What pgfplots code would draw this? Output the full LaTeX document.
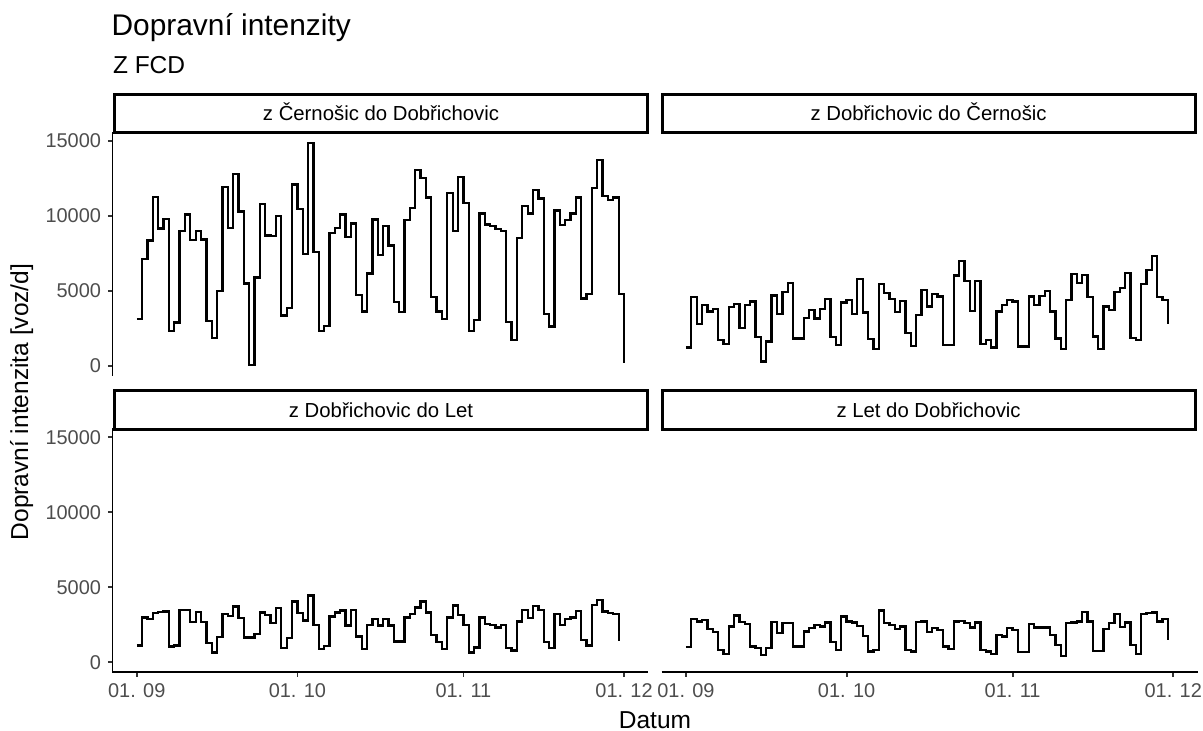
\documentclass[border=0pt]{standalone}
\usepackage{fontspec}
\setmainfont{Liberation Sans}
\usepackage{pgfplots}
\pgfplotsset{compat=1.18}
\definecolor{tickgray}{RGB}{77,77,77}
\definecolor{tickmark}{RGB}{51,51,51}
\pgfplotsset{
  panel/.style={
    scale only axis, width=268bp, height=122bp, anchor=south west,
    xmin=-4.55, xmax=95.55, ymin=-670, ymax=15610,
    ytick={0,5000,10000,15000},
    xtick={0,30,61,91},
    xticklabels={01. 09,01. 10,01. 11,01. 12},
    tick align=outside, major tick length=2.2bp,
    tick style={tickmark, line width=0.9bp},
    axis line style={black, line width=0.9bp},
    ticklabel style={font=\fontsize{10}{12}\selectfont, text=tickgray},
    /pgf/number format/assume math mode=true,
    /pgf/number format/1000 sep={},
    scaled y ticks=false,
    clip=false,
  },
  dat/.style={black, line width=1.15bp, const plot, mark=none, line join=miter},
}
\begin{document}
\begin{tikzpicture}
\path[use as bounding box] (0,0) rectangle (601.5bp,365.5bp);
% titles
\node[anchor=base west, inner sep=0pt, font=\fontsize{15}{18}\selectfont] at (55.6bp,347.5bp) {Dopravní intenzity};
\node[anchor=base west, inner sep=0pt, font=\fontsize{12.3}{14}\selectfont] at (56.3bp,328.5bp) {Z FCD};
% panel 1
\begin{axis}[panel, at={(56.2bp,177.5bp)}, axis x line=none, axis y line*=left]
\addplot[dat] coordinates {
(0,3150)(1,7140)(2,8370)(3,11270)(4,9170)(5,9820)(6,2320)(7,2900)(8,9000)(9,10100)
(10,8390)(11,9000)(12,8440)(13,3000)(14,1850)(15,5000)(16,11960)(17,9200)(18,12800)(19,10300)
(20,5500)(21,70)(22,5900)(23,10800)(24,8700)(25,8660)(26,10000)(27,3370)(28,3860)(29,12100)
(30,10450)(31,7460)(32,14870)(33,7600)(34,2340)(35,2660)(36,8880)(37,9200)(38,10100)(39,8600)
(40,9500)(41,4750)(42,3640)(43,6160)(44,9780)(45,7410)(46,9330)(47,8040)(48,4260)(49,3600)
(50,9730)(51,10540)(52,13060)(53,12540)(54,11230)(55,4600)(56,3640)(57,3130)(58,11520)(59,9000)
(60,12630)(61,10850)(62,2340)(63,3080)(64,10180)(65,9440)(66,9330)(67,9150)(68,9000)(69,2920)
(70,1740)(71,8550)(72,10650)(73,10180)(74,11720)(75,11180)(76,3480)(77,2630)(78,10380)(79,9400)
(80,9730)(81,10180)(82,11230)(83,4500)(84,4800)(85,11850)(86,13730)(87,11340)(88,11050)(89,11230)
(90,4780)(91,220)};
\end{axis}
% panel 2
\begin{axis}[panel, at={(330.8bp,177.5bp)}, axis x line=none, axis y line=none]
\addplot[dat] coordinates {
(0,1230)(1,4580)(2,2810)(3,4060)(4,3640)(5,3820)(6,1740)(7,1450)(8,3930)(9,4150)
(10,2520)(11,4080)(12,4310)(13,1920)(14,290)(15,1630)(16,4710)(17,3480)(18,4930)(19,5540)
(20,1830)(21,1830)(22,3190)(23,3730)(24,3170)(25,3820)(26,4460)(27,1920)(28,1380)(29,4240)
(30,4420)(31,3460)(32,5800)(33,3570)(34,1790)(35,1120)(36,5470)(37,4870)(38,4460)(39,3620)
(40,4350)(41,2190)(42,1340)(43,3420)(44,5070)(45,3970)(46,4820)(47,4640)(48,1410)(49,1410)
(50,6030)(51,6990)(52,5690)(53,3680)(54,5690)(55,1450)(56,1740)(57,1230)(58,3640)(59,4080)
(60,4420)(61,4310)(62,1290)(63,1290)(64,4640)(65,4080)(66,4690)(67,4980)(68,3640)(69,1830)
(70,1140)(71,4420)(72,6140)(73,5540)(74,6090)(75,4600)(76,1960)(77,1140)(78,3970)(79,3710)
(80,4930)(81,5200)(82,6210)(83,1850)(84,1740)(85,5470)(86,6380)(87,7320)(88,4580)(89,4380)
(90,2810)};
\end{axis}
% panel 3
\begin{axis}[panel, at={(56.2bp,29.4bp)}, axis x line*=bottom, axis y line*=left]
\addplot[dat] coordinates {
(0,1110)(1,2980)(2,2890)(3,3270)(4,3360)(5,3380)(6,1040)(7,1110)(8,3490)(9,3490)
(10,2670)(11,3330)(12,2670)(13,1270)(14,640)(15,1670)(16,3200)(17,3090)(18,3710)(19,2930)
(20,1640)(21,1640)(22,1870)(23,3310)(24,3160)(25,2600)(26,3600)(27,930)(28,1600)(29,4040)
(30,3270)(31,2780)(32,4440)(33,2490)(34,890)(35,1090)(36,3040)(37,3310)(38,3440)(39,2440)
(40,3490)(41,1710)(42,890)(43,2490)(44,2890)(45,2440)(46,2890)(47,2440)(48,1380)(49,1380)
(50,2980)(51,3200)(52,3640)(53,4040)(54,3310)(55,1820)(56,1330)(57,890)(58,2980)(59,3780)
(60,3160)(61,2490)(62,640)(63,980)(64,2980)(65,2560)(66,2490)(67,2310)(68,2490)(69,930)
(70,780)(71,2710)(72,3490)(73,2930)(74,3760)(75,3490)(76,1330)(77,930)(78,3200)(79,2490)
(80,2870)(81,2980)(82,3420)(83,1490)(84,1110)(85,3820)(86,4160)(87,3380)(88,3270)(89,3200)
(90,1420)};
\end{axis}
% panel 4
\begin{axis}[panel, at={(330.8bp,29.4bp)}, axis x line*=bottom, axis y line=none]
\addplot[dat] coordinates {
(0,1000)(1,2870)(2,2710)(3,2820)(4,2220)(5,2000)(6,820)(7,530)(8,2380)(9,3110)
(10,2670)(11,2530)(12,1040)(13,930)(14,490)(15,930)(16,2670)(17,1930)(18,2600)(19,2600)
(20,1040)(21,1040)(22,2040)(23,2270)(24,2490)(25,2380)(26,2640)(27,1330)(28,820)(29,3040)
(30,2710)(31,2640)(32,2420)(33,1760)(34,710)(35,820)(36,3440)(37,2600)(38,2490)(39,2200)
(40,2380)(41,820)(42,710)(43,2670)(44,2710)(45,2000)(46,2270)(47,2160)(48,1040)(49,890)
(50,2710)(51,2760)(52,2600)(53,2310)(54,2640)(55,820)(56,710)(57,560)(58,1820)(59,1710)
(60,2270)(61,2160)(62,670)(63,670)(64,2560)(65,2310)(66,2310)(67,2310)(68,1820)(69,1160)
(70,420)(71,2600)(72,2640)(73,2710)(74,3330)(75,2710)(76,760)(77,760)(78,2200)(79,2600)
(80,3200)(81,2330)(82,2640)(83,1160)(84,560)(85,3200)(86,3270)(87,3310)(88,2710)(89,2870)
(90,1490)};
\end{axis}
% strips
\begin{scope}[line width=1.5bp]
\draw (57.2bp,299.15bp) rectangle (323.75bp,318.4bp);
\draw (331.1bp,299.15bp) rectangle (597.5bp,318.4bp);
\draw (57.2bp,150.9bp) rectangle (323.75bp,170.25bp);
\draw (331.1bp,150.9bp) rectangle (597.5bp,170.25bp);
\end{scope}
\begin{scope}[every node/.style={anchor=base, inner sep=0pt, font=\fontsize{10.2}{12}\selectfont}]
\node at (190.5bp,305.2bp) {z Černošic do Dobřichovic};
\node at (464.3bp,305.2bp) {z Dobřichovic do Černošic};
\node at (190.5bp,156.9bp) {z Dobřichovic do Let};
\node at (464.3bp,156.9bp) {z Let do Dobřichovic};
\end{scope}
% axis titles
\node[anchor=base, inner sep=0pt, font=\fontsize{12.3}{14}\selectfont] at (327.5bp,1.35bp) {Datum};
\node[anchor=base, rotate=90, inner sep=0pt, font=\fontsize{12.3}{14}\selectfont] at (14bp,164.5bp) {Dopravní intenzita [voz/d]};
\end{tikzpicture}
\end{document}
